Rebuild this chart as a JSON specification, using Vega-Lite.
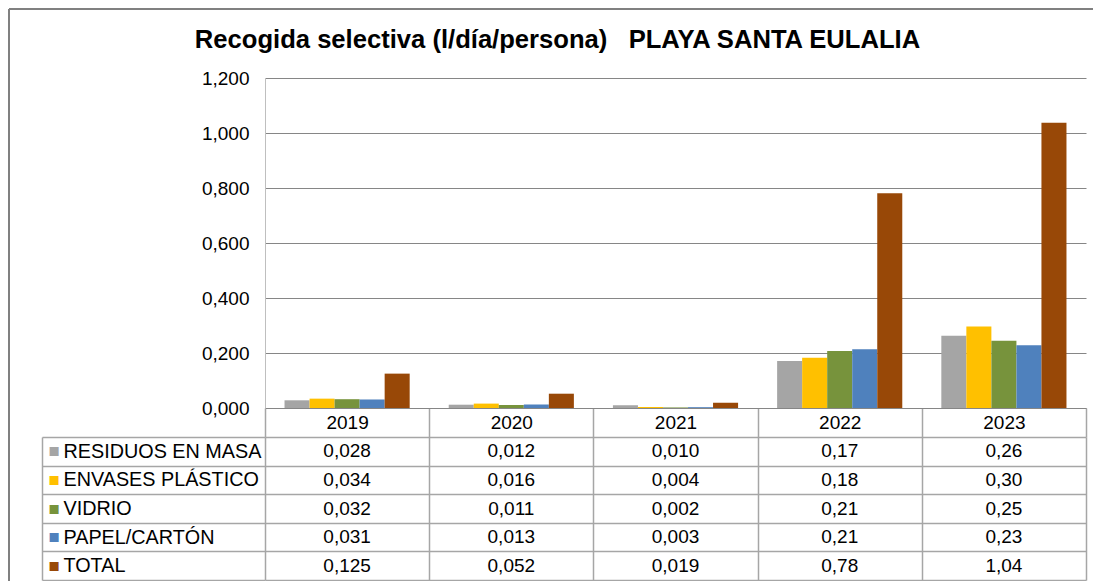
{
  "$schema": "https://vega.github.io/schema/vega-lite/v6.json",
  "autosize": {"type": "none"},
  "padding": {"left": 9, "top": 9, "right": 0, "bottom": 0},
  "width": 1085,
  "height": 572,
  "background": "#ffffff",
  "view": {"stroke": "#808080", "strokeWidth": 2, "strokeDash": [1084, 1658, 572, 0]},
  "title": {
    "text": "Recogida selectiva (l/día/persona)\u00a0\u00a0\u00a0PLAYA SANTA EULALIA",
    "font": "Liberation Sans",
    "fontSize": 25.6,
    "fontWeight": "bold",
    "color": "#000000",
    "anchor": "middle",
    "frame": "group",
    "baseline": "alphabetic",
    "offset": -39,
    "dy": 36,
    "dx": 6
  },
  "data": {
    "values": [
      {"year": "2019", "series": "RESIDUOS EN MASA", "value": 0.028, "label": "0,028"},
      {"year": "2019", "series": "ENVASES PLÁSTICO", "value": 0.034, "label": "0,034"},
      {"year": "2019", "series": "VIDRIO", "value": 0.032, "label": "0,032"},
      {"year": "2019", "series": "PAPEL/CARTÓN", "value": 0.031, "label": "0,031"},
      {"year": "2019", "series": "TOTAL", "value": 0.125, "label": "0,125"},
      {"year": "2020", "series": "RESIDUOS EN MASA", "value": 0.012, "label": "0,012"},
      {"year": "2020", "series": "ENVASES PLÁSTICO", "value": 0.016, "label": "0,016"},
      {"year": "2020", "series": "VIDRIO", "value": 0.011, "label": "0,011"},
      {"year": "2020", "series": "PAPEL/CARTÓN", "value": 0.013, "label": "0,013"},
      {"year": "2020", "series": "TOTAL", "value": 0.052, "label": "0,052"},
      {"year": "2021", "series": "RESIDUOS EN MASA", "value": 0.010, "label": "0,010"},
      {"year": "2021", "series": "ENVASES PLÁSTICO", "value": 0.004, "label": "0,004"},
      {"year": "2021", "series": "VIDRIO", "value": 0.002, "label": "0,002"},
      {"year": "2021", "series": "PAPEL/CARTÓN", "value": 0.003, "label": "0,003"},
      {"year": "2021", "series": "TOTAL", "value": 0.019, "label": "0,019"},
      {"year": "2022", "series": "RESIDUOS EN MASA", "value": 0.171, "label": "0,17"},
      {"year": "2022", "series": "ENVASES PLÁSTICO", "value": 0.183, "label": "0,18"},
      {"year": "2022", "series": "VIDRIO", "value": 0.207, "label": "0,21"},
      {"year": "2022", "series": "PAPEL/CARTÓN", "value": 0.214, "label": "0,21"},
      {"year": "2022", "series": "TOTAL", "value": 0.781, "label": "0,78"},
      {"year": "2023", "series": "RESIDUOS EN MASA", "value": 0.263, "label": "0,26"},
      {"year": "2023", "series": "ENVASES PLÁSTICO", "value": 0.296, "label": "0,30"},
      {"year": "2023", "series": "VIDRIO", "value": 0.245, "label": "0,25"},
      {"year": "2023", "series": "PAPEL/CARTÓN", "value": 0.228, "label": "0,23"},
      {"year": "2023", "series": "TOTAL", "value": 1.037, "label": "1,04"}
    ]
  },
  "layer": [
    {
      "mark": {"type": "bar"},
      "encoding": {
        "x": {
          "field": "year", "type": "nominal",
          "scale": {"type": "band", "range": [256, 1077], "paddingInner": 0, "paddingOuter": 0},
          "axis": {
            "orient": "bottom", "offset": -173, "title": null,
            "tickBand": "extent", "ticks": true, "tickSize": 29, "tickColor": "#A6A6A6", "tickWidth": 1.5,
            "domain": true, "domainColor": "#868686", "domainWidth": 1,
            "labelAngle": 0, "labelFontSize": 19, "labelFont": "Liberation Sans", "labelColor": "#000000",
            "labelBaseline": "middle", "labelPadding": -14.5, "grid": false
          }
        },
        "xOffset": {
          "field": "series", "type": "nominal",
          "sort": ["RESIDUOS EN MASA", "ENVASES PLÁSTICO", "VIDRIO", "PAPEL/CARTÓN", "TOTAL"],
          "scale": {"paddingInner": 0, "paddingOuter": 0.78}
        },
        "y": {
          "field": "value", "type": "quantitative",
          "scale": {"domain": [0, 1.2], "range": [399, 69], "nice": false, "zero": true},
          "axis": {
            "orient": "left", "offset": -256, "title": null,
            "values": [0, 0.2, 0.4, 0.6, 0.8, 1, 1.2], "format": ".3f",
            "grid": true, "gridColor": "#868686", "gridWidth": 1,
            "ticks": false, "domain": true, "domainColor": "#BFBFBF", "domainWidth": 1,
            "labelFontSize": 19, "labelFont": "Liberation Sans", "labelColor": "#000000", "labelPadding": 16
          }
        },
        "color": {
          "field": "series", "type": "nominal",
          "scale": {
            "domain": ["RESIDUOS EN MASA", "ENVASES PLÁSTICO", "VIDRIO", "PAPEL/CARTÓN", "TOTAL"],
            "range": ["#A5A5A5", "#FFC000", "#77933C", "#4F81BD", "#984807"]
          },
          "legend": null
        }
      }
    },
    {
      "mark": {"type": "text", "fontSize": 19, "font": "Liberation Sans", "color": "#000000", "align": "center", "baseline": "middle"},
      "encoding": {
        "x": {
          "field": "year", "type": "nominal",
          "scale": {"type": "band", "range": [256, 1077], "paddingInner": 0, "paddingOuter": 0},
          "axis": {
            "orient": "top", "title": null, "labels": false, "ticks": false, "domain": false,
            "grid": true, "tickBand": "extent", "gridColor": "#A6A6A6", "gridWidth": 1.5
          }
        },
        "y": {
          "field": "series", "type": "nominal",
          "sort": ["RESIDUOS EN MASA", "ENVASES PLÁSTICO", "VIDRIO", "PAPEL/CARTÓN", "TOTAL"],
          "scale": {"type": "band", "range": [428, 571], "paddingInner": 0, "paddingOuter": 0},
          "axis": {
            "orient": "left", "offset": -256, "title": null,
            "tickBand": "extent", "ticks": true, "tickSize": 223, "tickColor": "#A6A6A6", "tickWidth": 1.5,
            "grid": true, "gridColor": "#A6A6A6", "gridWidth": 1.5, "domain": false,
            "labelAlign": "left", "labelBaseline": "middle", "labelPadding": -21, "labelLimit": 0,
            "labelFontSize": 19.8, "labelFont": "Liberation Sans", "labelColor": "#000000"
          }
        },
        "text": {"field": "label"}
      }
    },
    {
      "mark": {"type": "text", "text": ""},
      "encoding": {
        "y": {
          "field": "series", "type": "nominal",
          "sort": ["RESIDUOS EN MASA", "ENVASES PLÁSTICO", "VIDRIO", "PAPEL/CARTÓN", "TOTAL"],
          "scale": {"type": "band", "range": [428, 571], "paddingInner": 0, "paddingOuter": 0},
          "axis": {
            "orient": "left", "offset": -33, "title": null,
            "ticks": false, "grid": false, "domain": true, "domainColor": "#A6A6A6", "domainWidth": 1.5,
            "labelExpr": "'■'", "labelAlign": "left", "labelBaseline": "middle", "labelPadding": -6,
            "labelFontSize": 18.5, "labelFont": "Liberation Sans",
            "labelColor": {
              "condition": [
                {"test": "datum.value === 'RESIDUOS EN MASA'", "value": "#A5A5A5"},
                {"test": "datum.value === 'ENVASES PLÁSTICO'", "value": "#FFC000"},
                {"test": "datum.value === 'VIDRIO'", "value": "#77933C"},
                {"test": "datum.value === 'PAPEL/CARTÓN'", "value": "#4F81BD"}
              ],
              "value": "#984807"
            }
          }
        }
      }
    }
  ],
  "resolve": {
    "scale": {"y": "independent"},
    "axis": {"x": "independent", "y": "independent"}
  },
  "config": {
    "font": "Liberation Sans",
    "locale": {"number": {"decimal": ",", "thousands": ".", "grouping": [3], "currency": ["", " €"]}}
  }
}
